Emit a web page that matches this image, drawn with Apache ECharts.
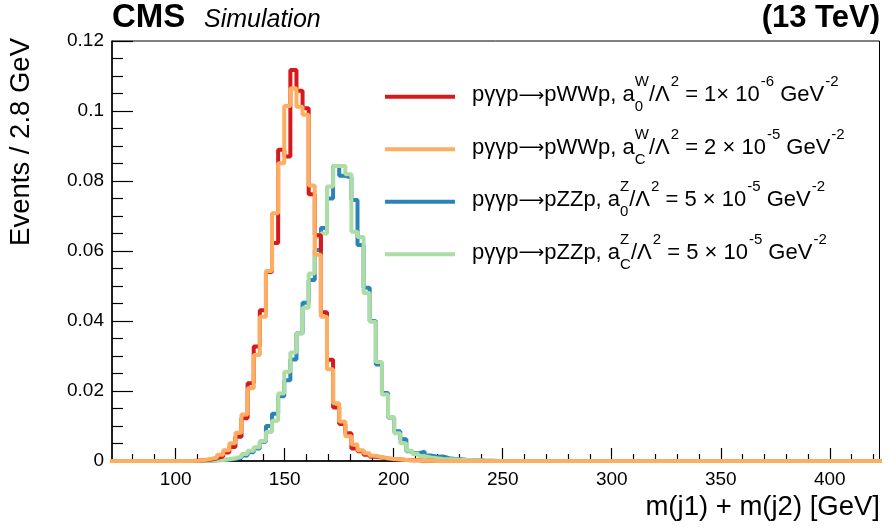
<!DOCTYPE html>
<html><head><meta charset="utf-8">
<script src="https://cdn.jsdelivr.net/npm/echarts@6/dist/echarts.min.js"></script>
<style>html,body{margin:0;padding:0;background:#fff}#c{width:888px;height:531px}</style>
</head><body><div id="c"></div>
<script>
// ---- data ----
const binWidth = 2.8;          // GeV
const firstEdge = 71.4;        // lower edge of bin index 0
const firstBin = 12;           // index of first listed bin
const axisMin = 70.8, axisMax = 422.8;
const xMajorTicks = [100, 150, 200, 250, 300, 350, 400];
const xMinorTicks = [80, 90, 110, 120, 130, 140, 160, 170, 180, 190, 210, 220, 230, 240, 260, 270, 280, 290, 310, 320, 330, 340, 360, 370, 380, 390, 410, 420];

// bins 12..62
const wwA0 = [0, 0.0001, 0.0002, 0.0004, 0.0008, 0.0013, 0.0024, 0.0040, 0.0069, 0.0122,
  0.0222, 0.0327, 0.0431, 0.0540, 0.0623, 0.0889, 0.0870, 0.1117, 0.1058, 0.1008,
  0.0762, 0.0645, 0.0425, 0.0289, 0.0153, 0.0106, 0.0079, 0.0036, 0.0028, 0.0018,
  0.0012, 0.0010, 0.0007, 0.0005, 0.0004, 0.0003, 0.0002, 0.0002, 0.0001, 0.0001,
  0, 0, 0, 0, 0, 0, 0, 0, 0, 0, 0];
const wwAC = [0, 0.0001, 0.0003, 0.0006, 0.0010, 0.0018, 0.0031, 0.0051, 0.0081, 0.0133,
  0.0208, 0.0303, 0.0412, 0.0543, 0.0708, 0.0851, 0.1014, 0.1065, 0.1012, 0.0989,
  0.0787, 0.0589, 0.0412, 0.0262, 0.0165, 0.0113, 0.0071, 0.0047, 0.0031, 0.0022,
  0.0015, 0.0011, 0.0008, 0.0006, 0.0004, 0.0003, 0.0002, 0.0002, 0.0001, 0.0001,
  0, 0, 0, 0, 0, 0, 0, 0, 0, 0, 0];
const zzA0 = [0, 0, 0.0001, 0.0001, 0.0002, 0.0003, 0.0004, 0.0006, 0.0009, 0.0016,
  0.0025, 0.0036, 0.0055, 0.0100, 0.0135, 0.0185, 0.0231, 0.0290, 0.0365, 0.0452,
  0.0517, 0.0603, 0.0666, 0.0750, 0.0843, 0.0815, 0.0810, 0.0746, 0.0617, 0.0495,
  0.0400, 0.0276, 0.0194, 0.0124, 0.0085, 0.0062, 0.0028, 0.0022, 0.0027, 0.0016,
  0.0012, 0.0013, 0.0008, 0.0006, 0.0005, 0.0003, 0.0002, 0.0002, 0.0001, 0.0001, 0];
const zzAC = [0, 0, 0.0001, 0.0001, 0.0002, 0.0003, 0.0005, 0.0008, 0.0012, 0.0020,
  0.0029, 0.0039, 0.0057, 0.0083, 0.0115, 0.0193, 0.0255, 0.0310, 0.0365, 0.0438,
  0.0536, 0.0640, 0.0650, 0.0784, 0.0843, 0.0843, 0.0819, 0.0655, 0.0640, 0.0480,
  0.0398, 0.0283, 0.0190, 0.0125, 0.0079, 0.0051, 0.0029, 0.0020, 0.0014, 0.0010,
  0.0008, 0.0006, 0.0005, 0.0004, 0.0003, 0.0003, 0.0002, 0.0002, 0.0001, 0.0001, 0];

const colors = ['#d7191c', '#fdae61', '#2b83ba', '#abdda4'];
const names = ['pγγp→pWWp a0W', 'pγγp→pWWp aCW', 'pγγp→pZZp a0Z', 'pγγp→pZZp aCZ'];

// ---- helpers ----
function stepData(vals) {
  const d = [[axisMin - 5, 0]];
  vals.forEach((v, i) => d.push([firstEdge + binWidth * (firstBin + i), v]));
  d.push([firstEdge + binWidth * (firstBin + vals.length), 0]);
  d.push([axisMax + 5, 0]);
  return d;
}
const FONT = '"Liberation Sans", Arial, Helvetica, sans-serif';
const AFONT = '"DejaVu Sans", sans-serif';
const ctx = document.createElement('canvas').getContext('2d');
function tw(s, size, fam) { ctx.font = size + 'px ' + (fam || FONT); return ctx.measureText(s).width; }

const legendRows = [
  {c: colors[0], y: 96.7, parts: [['n','pγγp'],['a','⟶'],['n','pWWp, a'],['st','W','0'],['n','/Λ'],['u','2'],['n',' = 1× 10'],['u','-6'],['n',' GeV'],['u','-2']]},
  {c: colors[1], y: 149.2, parts: [['n','pγγp'],['a','⟶'],['n','pWWp, a'],['st','W','C'],['n','/Λ'],['u','2'],['n',' = 2 × 10'],['u','-5'],['n',' GeV'],['u','-2']]},
  {c: colors[2], y: 201.7, parts: [['n','pγγp'],['a','⟶'],['n','pZZp, a'],['st','Z','0'],['n','/Λ'],['u','2'],['n',' = 5 × 10'],['u','-5'],['n',' GeV'],['u','-2']]},
  {c: colors[3], y: 254.3, parts: [['n','pγγp'],['a','⟶'],['n','pZZp, a'],['st','Z','C'],['n','/Λ'],['u','2'],['n',' = 5 × 10'],['u','-5'],['n',' GeV'],['u','-2']]}
];
const MAIN = 22, SMALL = 15;
function txt(x, y, s, size, fam) {
  return {type: 'text', x: x, y: y, silent: true,
    style: {text: s, font: size + 'px ' + (fam || FONT), fill: '#000', align: 'left', verticalAlign: 'middle',
            textAlign: 'left', textVerticalAlign: 'middle'}};
}
const graphics = [];
legendRows.forEach(r => {
  graphics.push({type: 'line', silent: true, shape: {x1: 385, y1: r.y, x2: 455, y2: r.y},
    style: {stroke: r.c, lineWidth: 4}});
  let x = 472; const yc = r.y - 1.5;
  r.parts.forEach(p => {
    if (p[0] === 'n') { graphics.push(txt(x, yc, p[1], MAIN)); x += tw(p[1], MAIN); }
    else if (p[0] === 'a') { graphics.push(txt(x, yc + 1, p[1], 18, AFONT)); x += tw(p[1], 18, AFONT); }
    else if (p[0] === 'u') { x += 1; graphics.push(txt(x, yc - 13, p[1], SMALL)); x += tw(p[1], SMALL); }
    else { graphics.push(txt(x, yc - 13, p[1], SMALL)); graphics.push(txt(x, yc + 12, p[2], SMALL));
      x += Math.max(tw(p[1], SMALL), tw(p[2], SMALL)); }
  });
});
// titles and labels
function label(x, y, s, font, align, rot) {
  const g = {type: 'text', x: x, y: y, silent: true,
    style: {text: s, font: font, fill: '#000', align: align, verticalAlign: 'middle', textAlign: align, textVerticalAlign: 'middle'}};
  if (rot) g.rotation = rot;
  return g;
}
graphics.push(label(880, 507, 'm(j1) + m(j2) [GeV]', '27.5px ' + FONT, 'right'));
graphics.push(label(21, 38, 'Events / 2.8 GeV', '27.5px ' + FONT, 'right', Math.PI / 2));
graphics.push(label(112, 18, 'CMS', 'bold 33px ' + FONT, 'left'));
graphics.push(label(204, 20, 'Simulation', 'italic 25px ' + FONT, 'left'));
graphics.push(label(880, 18, '(13 TeV)', 'bold 31px ' + FONT, 'right'));

const seriesVals = [wwA0, wwAC, zzA0, zzAC];
const drawOrder = [2, 3, 0, 1];
const series = drawOrder.map(i => ({
  name: names[i], type: 'line', step: 'end', symbol: 'none', showSymbol: false,
  data: stepData(seriesVals[i]), clip: true, animation: false,
  lineStyle: {color: colors[i], width: 4}, itemStyle: {color: colors[i]},
  emphasis: {disabled: true}
}));

const chart = echarts.init(document.getElementById('c'), null, {renderer: 'canvas'});
chart.setOption({
  animation: false,
  backgroundColor: '#fff',
  grid: {left: 112, right: 8.5, top: 41, bottom: 70, containLabel: false, outerBoundsMode: 'none',
         show: true, borderColor: '#000', borderWidth: 1, backgroundColor: 'transparent'},
  xAxis: [{
    type: 'value', min: axisMin, max: axisMax, position: 'bottom',
    axisLine: {show: true, onZero: false, lineStyle: {color: '#000', width: 1.5}},
    axisTick: {show: true, inside: true, length: 13, lineStyle: {color: '#000', width: 1.2}, customValues: xMajorTicks},
    axisLabel: {show: true, color: '#000', fontSize: 19, fontFamily: FONT, margin: 9, customValues: xMajorTicks},
    splitLine: {show: false}
  }, {
    type: 'value', min: axisMin, max: axisMax, position: 'bottom', gridIndex: 0,
    axisLine: {show: false},
    axisTick: {show: true, inside: true, length: 7, lineStyle: {color: '#000', width: 1.2}, customValues: xMinorTicks},
    axisLabel: {show: false, customValues: xMinorTicks},
    splitLine: {show: false}
  }],
  yAxis: {
    type: 'value', min: 0, max: 0.12, interval: 0.02,
    axisLine: {show: true, lineStyle: {color: '#000', width: 1.5}},
    axisTick: {show: true, inside: true, length: 21, lineStyle: {color: '#000', width: 1.2}},
    minorTick: {show: true, splitNumber: 4, length: 11, lineStyle: {color: '#000', width: 1.2}},
    axisLabel: {color: '#000', fontSize: 19, fontFamily: FONT, margin: 8},
    splitLine: {show: false}, minorSplitLine: {show: false}
  },
  series: series,
  graphic: graphics
});
</script>
</body></html>
